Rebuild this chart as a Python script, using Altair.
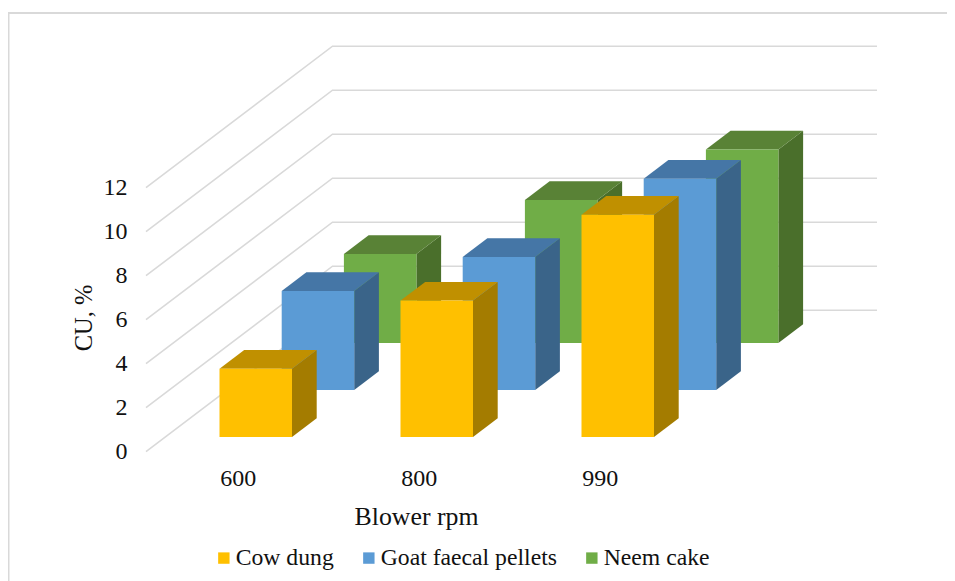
import altair as alt
import pandas as pd

# ---- values ----
rpm_labels = ["600", "800", "990"]
series_names = ["Cow dung", "Goat faecal pellets", "Neem cake"]
cow_dung = [3.1, 6.2, 10.1]
goat_pellets = [4.5, 6.05, 9.6]
neem_cake = [4.05, 6.5, 8.8]
y_ticks = [0, 2, 4, 6, 8, 10, 12]

# ---- styles ----
front_colors = ["#FFC000", "#5B9BD5", "#70AD47"]
side_colors = ["#A47C00", "#3A6489", "#4A6F2B"]
top_colors = ["#C09000", "#4576A6", "#598236"]
grid_color = "#D9D9D9"
text_color = "#111111"
font = "Liberation Serif"

# ---- oblique projection of the 3D scene onto the plot ----
W, H = 939, 573
UNIT = 22.0                # pixels per CU unit
Y_ZERO = 443.7             # plot pixel of CU=0 on the front edge of the floor
WALL_X0, WALL_X1, FRONT_X = 324.5, 869, 138
WALL_RISE = 141.5 / UNIT
BAR_W, DEPTH_X, DEPTH_Y = 72.5, 24.7, 18.7 / UNIT
COL_STEP, ROW_STEP_X, ROW_STEP_Y = 181.0, 62.2, 47.0 / UNIT
X_START, Y_START = 211.5, (451.7 - 437) / UNIT
LABEL_SHIFT = 18.0

vmax = Y_ZERO / UNIT
vmin = (Y_ZERO - H) / UNIT
x_scale = alt.Scale(domain=[0, W], range=[0, W], nice=False, zero=False)
y_scale = alt.Scale(domain=[vmin, vmax], range=[H, 0], nice=False, zero=False)
color_scale = alt.Scale(domain=series_names, range=front_colors)

all_values = [cow_dung, goat_pellets, neem_cake]

x_ticks = [X_START + BAR_W / 2 - LABEL_SHIFT + i * COL_STEP for i in range(3)]
x_axis = alt.Axis(
    values=x_ticks,
    labelExpr="{" + ",".join(f"'{v}':'{lab}'" for v, lab in zip(x_ticks, rpm_labels)) + "}[datum.value]",
    offset=-(H + 8 - 466), domain=False, ticks=False, grid=False,
    labelFontSize=24, labelColor=text_color, labelFont=font, labelPadding=0,
    labelOverlap=False, titleFont=font, titleFontSize=25.8, titleFontWeight="normal",
    titleColor=text_color, titleX=408, titleY=50, titleBaseline="middle")
y_axis = alt.Axis(
    values=y_ticks, offset=-119, domain=False, ticks=False, grid=False,
    labelFontSize=24, labelColor=text_color, labelFont=font, labelPadding=0,
    labelOverlap=False, titleFont=font, titleFontSize=24.5, titleFontWeight="normal",
    titleColor=text_color, titleX=-31, titleY=309.5)


def X(**kw):
    return alt.X("x:Q", scale=x_scale, title="Blower rpm", axis=x_axis, **kw)


def Y(**kw):
    return alt.Y("y:Q", scale=y_scale, title="CU, %", axis=y_axis, **kw)


# frame of the chart area (left and top edges)
frame = pd.DataFrame({"x": [0.5, 0.5, W], "y": [vmin, vmax - 5 / UNIT, vmax - 5 / UNIT], "o": [0, 1, 2]})
frame_layer = alt.Chart(frame).mark_line(color=grid_color, strokeWidth=2, strokeCap="butt").encode(
    x=X(), y=Y(), order="o:Q",
)

# gridlines: side wall diagonals and back wall horizontals
grid_rows = []
for t in y_ticks:
    grid_rows += [
        {"level": t, "x": FRONT_X, "y": t, "o": 0},
        {"level": t, "x": WALL_X0, "y": t + WALL_RISE, "o": 1},
        {"level": t, "x": WALL_X1, "y": t + WALL_RISE, "o": 2},
    ]
grid_layer = alt.Chart(pd.DataFrame(grid_rows)).mark_line(color=grid_color, strokeWidth=1.6).encode(
    x=X(), y=Y(), detail="level:N", order="o:Q",
)

layers = [frame_layer, grid_layer]

# bars, back row first so the nearer ones cover them
for s in [2, 1, 0]:
    fronts, sides, tops = [], [], []
    for c, value in enumerate(all_values[s]):
        x0 = X_START + c * COL_STEP + s * ROW_STEP_X
        base = Y_START + s * ROW_STEP_Y
        top = base + value
        bar = f"{s}-{c}"
        fronts.append({"series": series_names[s], "x": x0, "x2": x0 + BAR_W, "y": base, "y2": top})
        sides += [
            {"bar": bar, "x": x0 + BAR_W, "y": base, "y2": top},
            {"bar": bar, "x": x0 + BAR_W + DEPTH_X, "y": base + DEPTH_Y, "y2": top + DEPTH_Y},
        ]
        tops += [
            {"bar": bar, "y": top, "x": x0, "x2": x0 + BAR_W},
            {"bar": bar, "y": top + DEPTH_Y, "x": x0 + DEPTH_X, "x2": x0 + BAR_W + DEPTH_X},
        ]
    side_layer = alt.Chart(pd.DataFrame(sides)).mark_area(color=side_colors[s], orient="vertical").encode(
        x=X(), y=Y(stack=None), y2="y2:Q", detail="bar:N",
    )
    top_layer = alt.Chart(pd.DataFrame(tops)).mark_area(color=top_colors[s], orient="horizontal").encode(
        y=Y(), x=X(stack=None), x2="x2:Q", detail="bar:N",
    )
    legend = None
    if s == 2:
        legend = alt.Legend(
            orient="none", legendX=204, legendY=538, direction="horizontal", title=None,
            symbolType="square", symbolSize=130, symbolStrokeWidth=0, symbolOpacity=1,
            labelFont=font, labelFontSize=23.7, labelColor=text_color, labelOffset=0,
            columnPadding=23, labelLimit=300,
        )
    front_layer = alt.Chart(pd.DataFrame(fronts)).mark_rect().encode(
        x=X(), x2="x2:Q", y=Y(), y2="y2:Q",
        color=alt.Color("series:N", scale=color_scale, legend=legend),
    )
    layers += [side_layer, top_layer, front_layer]

chart = alt.layer(*layers).properties(
    width=W, height=H, padding=0, autosize=alt.AutoSizeParams(type="none"), background="white",
).configure_view(stroke=None)

chart.save("out.html", embed_options={"renderer": "svg", "actions": False})
